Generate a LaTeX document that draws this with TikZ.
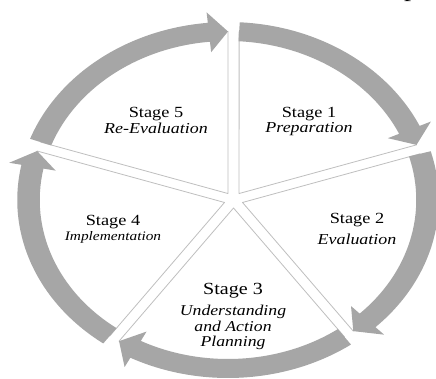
\documentclass[tikz,border=0pt]{standalone}
\usepackage{fontspec}
\setmainfont{Liberation Serif}[FakeStretch=1.18]
\usetikzlibrary{positioning}
\definecolor{ringgray}{HTML}{A6A6A6}
\definecolor{edgegray}{HTML}{BFBFBF}

\begin{document}
\begin{tikzpicture}[x=1pt,y=1pt,
	wedge/.style={draw=edgegray,fill=white,line width=0.8pt,line join=round},
	band/.style={fill=ringgray},
	title/.style={anchor=base,inner sep=0pt,font=\fontsize{15.5}{17}\selectfont},
	desc/.style={anchor=base,inner sep=0pt,font=\fontsize{15.2}{17}\selectfont\itshape}]

	\useasboundingbox (0,0) rectangle (436,378);

	\begin{scope}[shift={(228,178)},xscale=1.184]
		% wedges
		\draw[wedge] (9.35,6.47) -- (86.8:168.5) arc[start angle=86.8,end angle=19.1,radius=168.5] -- cycle;
		\draw[wedge] (12.26,-2.47) -- (15.9:168.5) arc[start angle=15.9,end angle=-51.1,radius=168.5] -- cycle;
		\draw[wedge] (4.65,-8) -- (-54.3:168.5) arc[start angle=-54.3,end angle=-123.1,radius=168.5] -- cycle;
		\draw[wedge] (-2.96,-2.47) -- (-126.3:168.5) arc[start angle=-126.3,end angle=-196.9,radius=168.5] -- cycle;
		\draw[wedge] (-0.05,6.47) -- (159.9:168.5) arc[start angle=159.9,end angle=90,radius=168.5] -- cycle;

		% arrows
		\fill[band] (86.8:178) arc[start angle=86.8,end angle=24.6,radius=178] -- (24.6:188.5) -- (19.1:168.5) -- (24.6:148.5) -- (24.6:159) arc[start angle=24.6,end angle=86.8,radius=159] -- cycle;
		\fill[band] (15.9:178) arc[start angle=15.9,end angle=-45.6,radius=178] -- (-45.6:188.5) -- (-51.1:168.5) -- (-45.6:148.5) -- (-45.6:159) arc[start angle=-45.6,end angle=15.9,radius=159] -- cycle;
		\fill[band] (-54.3:178) arc[start angle=-54.3,end angle=-117.6,radius=178] -- (-117.6:188.5) -- (-123.1:168.5) -- (-117.6:148.5) -- (-117.6:159) arc[start angle=-117.6,end angle=-54.3,radius=159] -- cycle;
		\fill[band] (-126.3:178) arc[start angle=-126.3,end angle=-191.4,radius=178] -- (-191.4:188.5) -- (-196.9:168.5) -- (-191.4:148.5) -- (-191.4:159) arc[start angle=-191.4,end angle=-126.3,radius=159] -- cycle;
		\fill[band] (159.9:178) arc[start angle=159.9,end angle=95.5,radius=178] -- (95.5:188.5) -- (90:168.5) -- (95.5:148.5) -- (95.5:159) arc[start angle=95.5,end angle=159.9,radius=159] -- cycle;
	\end{scope}

	% labels
	\node[title] (s1) at (309,260) {Stage 1};
	\node[desc] (d1) at ([yshift=-14.7pt]s1.base) {Preparation};

	\node[title] (s2) at (357,154.7) {Stage 2};
	\node[desc] (d2) at ([yshift=-20.7pt]s2.base) {Evaluation};

	\node[title,font=\fontsize{17}{18}\selectfont] (s3) at (233,83.7) {Stage 3};
	\node[desc,font=\fontsize{15}{17}\selectfont\itshape] (d3) at ([yshift=-20.7pt]s3.base) {Understanding};
	\node[desc,font=\fontsize{15}{17}\selectfont\itshape] (d3b) at ([yshift=-16pt]d3.base) {and Action};
	\node[desc,font=\fontsize{15}{17}\selectfont\itshape] (d3c) at ([yshift=-15pt]d3b.base) {Planning};

	\node[title] (s4) at (113,153) {Stage 4};
	\node[desc,font=\fontsize{13}{15}\selectfont\itshape] (d4) at ([yshift=-15pt]s4.base) {Implementation};

	\node[title] (s5) at (156,260) {Stage 5};
	\node[desc] (d5) at ([yshift=-16pt]s5.base) {Re-Evaluation};

	\node[anchor=base west,inner sep=0pt,font=\fontsize{24}{24}\selectfont] (pfrag) at (404,381.5) {p};
\end{tikzpicture}
\end{document}
